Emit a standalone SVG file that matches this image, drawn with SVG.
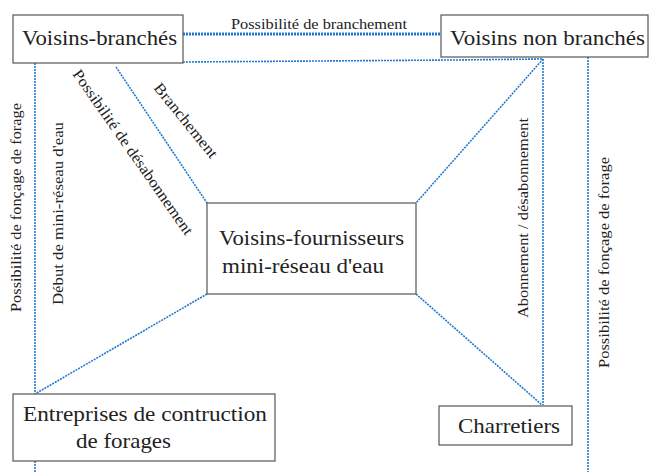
<svg xmlns="http://www.w3.org/2000/svg" width="649" height="472" viewBox="0 0 649 472" font-family="'Liberation Serif', 'Times New Roman', Times, Tinos, 'Noto Serif', 'DejaVu Serif', serif">
<style>
.box{fill:#fff;stroke:#555;stroke-width:1.2}
text{font-family:'Liberation Serif','Times New Roman',Times,Tinos,'Noto Serif','DejaVu Serif',serif;fill:#222}
.big{font-size:22px}
.sm{font-size:15.5px}
.c{fill:none;stroke:#1f78d1;stroke-width:1.6;stroke-dasharray:2 1}
.thick{stroke-width:3;stroke-dasharray:2 1}
</style>
<rect width="649" height="472" fill="#fff"/>
<g id="connectors">
<line class="c thick" x1="183" y1="34" x2="441" y2="34"/>
<polyline class="c" points="183,62 453,60 543,59"/>
<line class="c" x1="543" y1="59" x2="543" y2="405"/>
<line class="c" x1="588" y1="57" x2="588" y2="472"/>
<line class="c" x1="543" y1="59" x2="416" y2="203"/>
<line class="c" x1="416" y1="294" x2="542" y2="405"/>
<line class="c" x1="35" y1="63" x2="35" y2="394"/>
<line class="c" x1="35" y1="461" x2="35" y2="472"/>
<line class="c" x1="207" y1="294" x2="35" y2="394"/>
<line class="c" x1="116" y1="67" x2="207" y2="203"/>
<text class="sm" x="231" y="29" textLength="176" lengthAdjust="spacingAndGlyphs">Possibilité de branchement</text>
<text class="sm" transform="translate(21,312) rotate(-90)" textLength="209" lengthAdjust="spacingAndGlyphs">Possibilité de fonçage de forage</text>
<text class="sm" transform="translate(63,305) rotate(-90)" textLength="183" lengthAdjust="spacingAndGlyphs">Début de mini-réseau d'eau</text>
<text class="sm" transform="translate(72,74) rotate(55)" textLength="198" lengthAdjust="spacingAndGlyphs">Possibilité de désabonnement</text>
<text class="sm" transform="translate(153,88) rotate(51)" textLength="92" lengthAdjust="spacingAndGlyphs">Branchement</text>
<text class="sm" transform="translate(528,318) rotate(-90)" textLength="200" lengthAdjust="spacingAndGlyphs">Abonnement / désabonnement</text>
<text class="sm" transform="translate(609,368) rotate(-90)" textLength="211" lengthAdjust="spacingAndGlyphs">Possibilité de fonçage de forage</text>
</g>
<g id="voisins-branches">
<rect class="box" x="13" y="15" width="170" height="48"/>
<text class="big" x="22" y="45" textLength="155" lengthAdjust="spacingAndGlyphs">Voisins-branchés</text>
</g>
<g id="voisins-non-branches">
<rect class="box" x="441" y="15" width="207" height="42"/>
<text class="big" x="450" y="45" textLength="195" lengthAdjust="spacingAndGlyphs">Voisins non branchés</text>
</g>
<g id="voisins-fournisseurs">
<rect class="box" x="207" y="203" width="209" height="91"/>
<text class="big" x="219" y="245" textLength="185" lengthAdjust="spacingAndGlyphs">Voisins-fournisseurs</text>
<text class="big" x="222" y="273" textLength="162" lengthAdjust="spacingAndGlyphs">mini-réseau d'eau</text>
</g>
<g id="entreprises">
<rect class="box" x="13" y="394" width="262" height="67"/>
<text class="big" x="23" y="421" textLength="244" lengthAdjust="spacingAndGlyphs">Entreprises de contruction</text>
<text class="big" x="76" y="448" textLength="95" lengthAdjust="spacingAndGlyphs">de forages</text>
</g>
<g id="charretiers">
<rect class="box" x="439" y="406" width="133" height="39"/>
<text class="big" x="458" y="433" textLength="102" lengthAdjust="spacingAndGlyphs">Charretiers</text>
</g>
</svg>
